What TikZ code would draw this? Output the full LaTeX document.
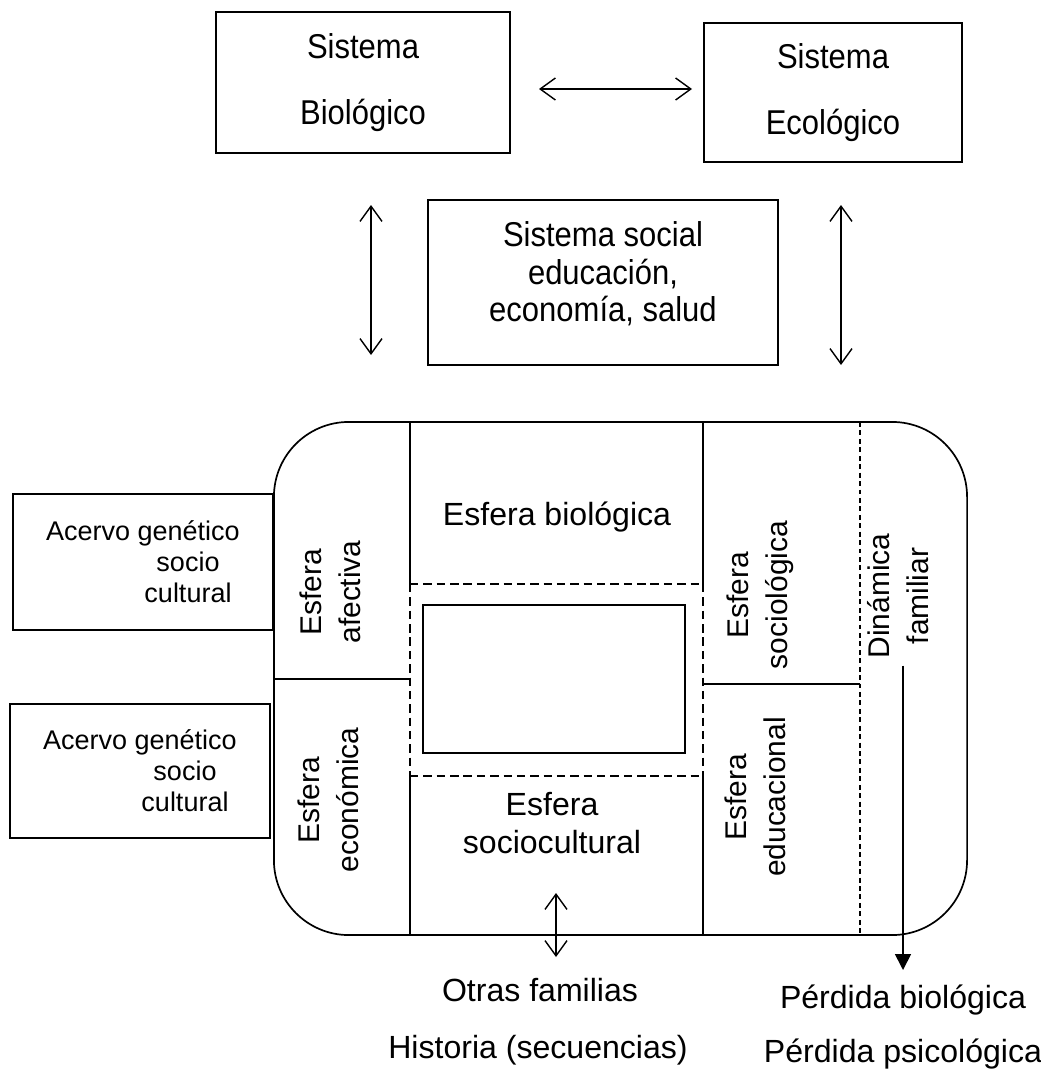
\documentclass[tikz,border=0pt]{standalone}
\usepackage{fontspec}
\setmainfont{Liberation Sans}
\newfontfamily\narrowfont[FakeStretch=0.9]{Liberation Sans}
\usetikzlibrary{
  arrows.meta,
  positioning,
}
\tikzset{
  sysbox/.style={
    rectangle,
    draw=black,
    line width=1.2pt,
    align=center,
    inner sep=0pt,
    font=\narrowfont\fontsize{24.5}{47}\selectfont
  },
  acervobox/.style={
    rectangle,
    draw=black,
    line width=1.2pt,
    align=center,
    inner sep=0pt,
    font=\fontsize{19.2}{22}\selectfont
  },
  esfera/.style={
    align=center,
    inner sep=0pt,
    font=\fontsize{22.8}{26.5}\selectfont
  },
  esferarot/.style={
    align=center,
    inner sep=0pt,
    rotate=90,
    font=\fontsize{21.3}{28}\selectfont
  },
  outtext/.style={
    inner sep=0pt,
    font=\fontsize{22.8}{27}\selectfont
  },
  twoway/.style={
    line width=1pt,
    {Straight Barb[length=3.8mm,width=5.5mm]}-{Straight Barb[length=3.8mm,width=5.5mm]},
  },
  oneway/.style={
    line width=1.2pt,
    -{Triangle[length=4mm,width=4mm]},
  },
  wall/.style={line width=1.2pt},
  seam/.style={line width=1.2pt, dash pattern=on 6pt off 3.5pt},
  fineseam/.style={line width=1.2pt, dash pattern=on 3.5pt off 2.5pt},
}

\begin{document}
\begin{tikzpicture}[x=0.025cm, y=-0.025cm]

  \useasboundingbox (0,0) rectangle (1040,1078);

  % Systems
  \node (bio) [sysbox, minimum width=7.35cm, minimum height=3.525cm]
    at (363,82.5) {Sistema\\Biológico};
  \node (eco) [sysbox, minimum width=6.45cm, minimum height=3.475cm]
    at (833,92.5) {Sistema\\Ecológico};
  \node (social) [sysbox, minimum width=8.75cm, minimum height=4.125cm]
    at (603,282.5) {};
  \node (socialtext) [align=center, inner sep=0pt,
    font=\narrowfont\fontsize{24.5}{26.7}\selectfont]
    at (603,274) {Sistema social\\educación,\\economía, salud};

  % Family frame
  \node (familia) [draw=black, line width=1.2pt, rounded corners=1.875cm,
    minimum width=17.325cm, minimum height=12.825cm, inner sep=0pt]
    at (620.5,678.5) {};
  \node (nucleo) [draw=black, line width=1.2pt, minimum width=6.55cm,
    minimum height=3.7cm, inner sep=0pt] at (554,679) {};

  \draw[wall] (410,422) -- (410,584);
  \draw[seam] (410,584) -- (410,776);
  \draw[wall] (410,776) -- (410,935);
  \draw[wall] (703,422) -- (703,584);
  \draw[seam] (703,584) -- (703,776);
  \draw[wall] (703,776) -- (703,935);
  \draw[seam] (410,584) -- (703,584);
  \draw[seam] (410,776) -- (703,776);
  \draw[wall] (274,679) -- (410,679);
  \draw[wall] (703,684) -- (860,684);
  \draw[fineseam] (860,422) -- (860,935);

  % Spheres
  \node (biologica) [esfera] at (557,517) {Esfera biológica};
  \node (sociocult) [esfera] at (552,823) {Esfera\\sociocultural};
  \node (afectiva) [esferarot] at (330,592) {Esfera\\afectiva};
  \node (economica) [esferarot] at (328,800) {Esfera\\económica};
  \node (sociologica) [esferarot] at (760,595) {Esfera\\sociológica};
  \node (educacional) [esferarot] at (755,797) {Esfera\\educacional};
  \node (dinamica) [esferarot] at (898,596) {Dinámica\\familiar};

  % Heritage
  \node (acervo1) [acervobox, minimum width=6.5cm, minimum height=3.4cm]
    at (143,562) {Acervo genético\\\hspace*{2.25cm}socio\\\hspace*{2.25cm}cultural};
  \node (acervo2) [acervobox, minimum width=6.5cm, minimum height=3.35cm]
    at (140,771) {Acervo genético\\\hspace*{2.25cm}socio\\\hspace*{2.25cm}cultural};

  % Outcomes
  \node (otras) [outtext] at (540,990) {Otras familias};
  \node (historia) [outtext] at (538,1050) {Historia (secuencias)};
  \node (perdida1) [outtext] at (903,1000) {Pérdida biológica};
  \node (perdida2) [outtext] at (903,1054) {Pérdida psicológica};

  % Arrows
  \coordinate (bio out) at (539,89);
  \coordinate (eco in) at (692,89);
  \coordinate (left up) at (371,205);
  \coordinate (left down) at (371,355);
  \coordinate (right up) at (841,205);
  \coordinate (right down) at (841,365);
  \coordinate (kin up) at (556,893);
  \coordinate (kin down) at (556,957);
  \coordinate (drop) at (903,970);

  \draw[twoway] (bio out) -- (eco in);
  \draw[twoway] (left up) -- (left down);
  \draw[twoway] (right up) -- (right down);
  \draw[twoway] (kin up) -- (kin down);
  \draw[oneway] (dinamica.west) ++(5,7) -- (drop);

\end{tikzpicture}
\end{document}
